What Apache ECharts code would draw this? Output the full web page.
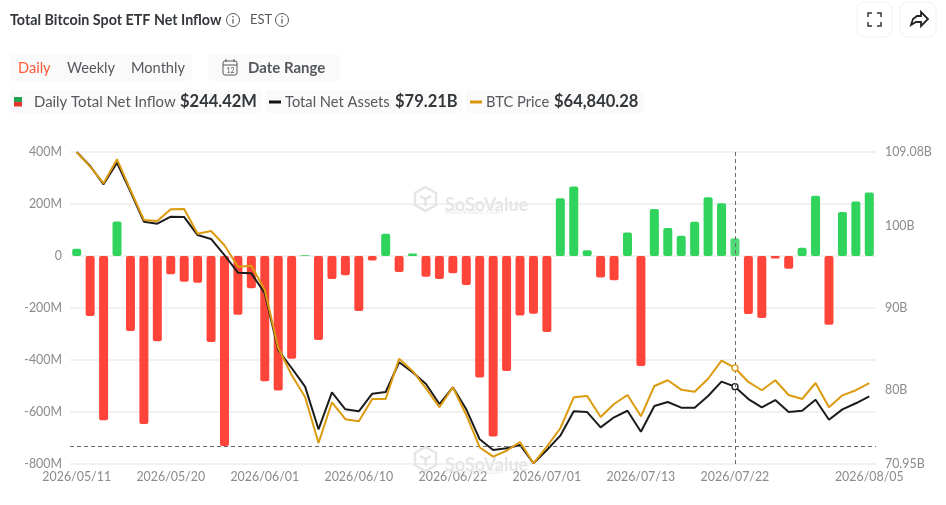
<!DOCTYPE html>
<html><head><meta charset="utf-8">
<style>html,body{margin:0;padding:0;background:#fff}#c{width:946px;height:505px}</style>
<script src="https://cdn.jsdelivr.net/npm/echarts@6/dist/echarts.min.js"></script>
</head><body><div id="c"></div>
<script>
const dates = ['2026/05/11','2026/05/12','2026/05/13','2026/05/14','2026/05/15','2026/05/18','2026/05/19','2026/05/20','2026/05/21','2026/05/22','2026/05/26','2026/05/27','2026/05/28','2026/05/29','2026/06/01','2026/06/02','2026/06/03','2026/06/04','2026/06/05','2026/06/08','2026/06/09','2026/06/10','2026/06/11','2026/06/12','2026/06/15','2026/06/16','2026/06/17','2026/06/18','2026/06/22','2026/06/23','2026/06/24','2026/06/25','2026/06/26','2026/06/29','2026/06/30','2026/07/01','2026/07/02','2026/07/06','2026/07/07','2026/07/08','2026/07/09','2026/07/10','2026/07/13','2026/07/14','2026/07/15','2026/07/16','2026/07/17','2026/07/20','2026/07/21','2026/07/22','2026/07/23','2026/07/24','2026/07/27','2026/07/28','2026/07/29','2026/07/30','2026/07/31','2026/08/03','2026/08/04','2026/08/05'];
const xTickLabels = ['2026/05/11','2026/05/20','2026/06/01','2026/06/10','2026/06/22','2026/07/01','2026/07/13','2026/07/22','2026/08/05'];
const netInflow = [28,-231,-632,133,-288,-646,-328,-70,-99,-103,-331,-731,-226,-124,-482,-517,-395,3,-323,-88,-74,-212,-17,86,-62,10,-80,-88,-66,-112,-467,-694,-442,-229,-222,-292,222,267,22,-83,-93,90,-423,181,108,78,132,226,203,68,-223,-238,-10,-49,32,232,-264,169,210,244.42];
const netAssets = [109.08,107.37,105.13,107.77,104.23,100.56,100.32,101.17,101.13,98.93,98.45,96.49,94.33,94.25,91.81,84.88,82.68,80.40,75.19,79.71,77.63,77.39,79.54,79.75,83.38,82.16,80.73,78.28,80.32,77.63,73.97,72.66,72.87,73.27,71.04,72.66,74.41,77.39,77.30,75.43,76.66,77.46,74.90,78.04,78.53,77.83,77.83,79.26,81.01,80.40,78.89,77.88,78.77,77.30,77.46,78.81,76.36,77.63,78.37,79.21];
const btcPrice = [84350,83110,81710,83735,81140,78610,78520,79510,79540,77450,77680,76470,74660,74750,72700,67800,65520,63660,59770,63210,61780,61610,63490,63490,66890,65860,64390,62790,64480,62140,59410,58620,59120,59860,58060,59460,61020,63630,63740,61970,63070,63830,62030,64590,65070,64280,64110,65200,66730,66110,64930,64230,65070,63830,63490,64840,62790,63800,64230,64840.28];
const leftTicks = [400,200,0,-200,-400,-600,-800];
const rightTicks = [70.95,80,90,100,109.08];
const hoverDate = '2026/07/22';
const hoverInflow = -731;

const FONT = 'Lato';
const GRAY = '#8a8a8f';
const hoverIdx = dates.indexOf(hoverDate);
const t = (x,y,text,o={}) => ({type:'text',x,y,silent:true,style:Object.assign({text,fontFamily:FONT,fontSize:14.6,fill:'#55585c',textVerticalAlign:'middle',textBaseline:'middle'},o)});
const r = (x,y,width,height,fill,rad=4,stroke) => ({type:'rect',silent:true,shape:{x,y,width,height,r:rad},style:{fill,stroke:stroke||null,lineWidth:stroke?1:0}});
const info = (cx,cy) => [
 {type:'circle',silent:true,shape:{cx,cy,r:6.5},style:{fill:'none',stroke:'#55585c',lineWidth:1}},
 {type:'line',silent:true,shape:{x1:cx,y1:cy-1,x2:cx,y2:cy+3.5},style:{stroke:'#55585c',lineWidth:1.2}},
 {type:'circle',silent:true,shape:{cx,cy:cy-3.2,r:0.8},style:{fill:'#55585c'}}
];
const line = (x1,y1,x2,y2,stroke,lineWidth=1.5) => ({type:'line',silent:true,shape:{x1,y1,x2,y2},style:{stroke,lineWidth}});
const wm = (x,y) => [
 {type:'polygon',silent:true,shape:{points:[[x+11.5,y-12],[x+22,y-6],[x+22,y+6],[x+11.5,y+12],[x+1,y+6],[x+1,y-6]]},style:{fill:'none',stroke:'#e6e6e6',lineWidth:2.5},z:3},
 {type:'polyline',silent:true,shape:{points:[[x+6,y-3],[x+11.5,y],[x+17,y-3]]},style:{fill:'none',stroke:'#e6e6e6',lineWidth:2.5},z:3},
 {type:'line',silent:true,shape:{x1:x+11.5,y1:y,x2:x+11.5,y2:y+7},style:{stroke:'#e6e6e6',lineWidth:2.5},z:3},
 {type:'text',silent:true,x:x+31,y:y-3,z:3,style:{text:'SoSoValue',fontFamily:FONT,fontWeight:'bold',fontSize:18,fill:'#e6e6e6',textBaseline:'middle'}},
 {type:'text',silent:true,x:x+31,y:y+8,z:3,style:{text:'sosovalue.com',fontFamily:FONT,fontSize:9,fill:'#e8e8e8',textBaseline:'middle'}}
];

const graphics = [
 t(10,20,'Total Bitcoin Spot ETF Net Inflow',{fontSize:14.3,fontWeight:'bold',fill:'#33363a'}),
 ...info(233,20),
 t(250,20,'EST',{fontSize:13}),
 ...info(282,20),
 r(857,2,35,35,'#fff',8,'#f0f0f0'), r(900,2,36,35,'#fff',8,'#f0f0f0'),
 {type:'polyline',silent:true,shape:{points:[[868,17],[868,13],[872,13]]},style:{fill:'none',stroke:'#33363a',lineWidth:1.5}},
 {type:'polyline',silent:true,shape:{points:[[877,13],[881,13],[881,17]]},style:{fill:'none',stroke:'#33363a',lineWidth:1.5}},
 {type:'polyline',silent:true,shape:{points:[[868,22],[868,26],[872,26]]},style:{fill:'none',stroke:'#33363a',lineWidth:1.5}},
 {type:'polyline',silent:true,shape:{points:[[877,26],[881,26],[881,22]]},style:{fill:'none',stroke:'#33363a',lineWidth:1.5}},
 {type:'polygon',silent:true,shape:{points:[[921,12],[928,19],[921,26],[921,22],[916,22],[911,25],[913,19],[917,16],[921,16]]},style:{fill:'none',stroke:'#222',lineWidth:1.8}},
 r(10,54,182,27,'#fafafa'),
 t(18,68,'Daily',{fill:'#ff5a36'}), t(67,68,'Weekly'), t(131,68,'Monthly'),
 r(208,54,132,27,'#fafafa'),
 r(223,61,14,14,'none',2,'#55585c'),
 line(223,65,237,65,'#55585c',1), line(226,59,226,62,'#55585c',1), line(234,59,234,62,'#55585c',1),
 t(226.5,70.5,'12',{fontSize:7,fill:'#55585c'}),
 t(248,68,'Date Range',{fontWeight:'bold',fontSize:15,fill:'#55585c'}),
 r(10,90,252,23,'#fafafa'), r(265,90,197,23,'#fafafa'), r(466,90,178,23,'#fafafa'),
 r(14,97,8,5,'#22a04f',0), r(14,102,8,4.5,'#e8352c',0),
 t(34,102,'Daily Total Net Inflow',{fontSize:14.9}), t(180,102,'$244.42M',{fontWeight:'bold',fontSize:16.5,fill:'#33363a'}),
 line(269,102,281,102,'#111',3),
 t(285,102,'Total Net Assets',{fontSize:14.7}), t(395,102,'$79.21B',{fontWeight:'bold',fontSize:16.5,fill:'#33363a'}),
 line(470,102,482,102,'#d9960f',3),
 t(486,102,'BTC Price',{fontSize:14.7}), t(554,102,'$64,840.28',{fontWeight:'bold',fontSize:16.5,fill:'#33363a'}),
 ...wm(414,199), ...wm(414,459)
];

const chart = echarts.init(document.getElementById('c'),null,{renderer:'canvas'});
chart.setOption({
 animation:false,
 textStyle:{fontFamily:FONT},
 grid:{left:70,right:70,top:152,bottom:41,containLabel:false},
 graphic:{elements:graphics},
 xAxis:{type:'category',data:dates,axisLine:{show:false},axisTick:{show:false},splitLine:{show:false},
  axisLabel:{color:GRAY,fontSize:12.4,fontFamily:FONT,margin:7,hideOverlap:false,
   interval:(i,v)=>xTickLabels.includes(v)}},
 yAxis:[
  {type:'value',min:-800,max:400,interval:200,axisLine:{show:false},axisTick:{show:false},
   splitLine:{lineStyle:{color:'#ececec',width:1.5}},
   axisLabel:{color:GRAY,fontSize:12.4,fontFamily:FONT,margin:8,
    customValues:leftTicks,formatter:v=>v===0?'0':v+'M'}},
  {type:'value',position:'right',min:70.95,max:109.08,axisLine:{show:false},axisTick:{show:false},splitLine:{show:false},
   axisLabel:{color:GRAY,fontSize:12.4,fontFamily:FONT,margin:9,customValues:rightTicks,formatter:v=>v+'B'}},
  {type:'value',show:false,min:58000,max:84350,splitLine:{show:false}}
 ],
 series:[
  {name:'Daily Total Net Inflow',type:'bar',yAxisIndex:0,barWidth:9,silent:true,
   data:netInflow.map((v,i)=>({value:v,itemStyle:{
     color:i===hoverIdx?(v>=0?'#4fdc78':'#ff6a60'):(v>=0?'#30d35c':'#ff453a'),
     borderRadius:2}})),
   markLine:{silent:true,symbol:'none',animation:false,label:{show:false},
    lineStyle:{color:'#6b6b6b',type:[4,3],width:1},
    data:[{yAxis:hoverInflow},{xAxis:hoverDate}]},z:2},
  {name:'Total Net Assets',type:'line',yAxisIndex:1,data:netAssets,silent:true,z:4,
   showSymbol:true,showAllSymbol:true,symbol:(v,p)=>p.dataIndex===hoverIdx?'circle':'none',symbolSize:6,
   lineStyle:{color:'#1c1c1c',width:2},itemStyle:{color:'#fff',borderColor:'#1c1c1c',borderWidth:1.3}},
  {name:'BTC Price',type:'line',yAxisIndex:2,data:btcPrice,silent:true,z:5,
   showSymbol:true,showAllSymbol:true,symbol:(v,p)=>p.dataIndex===hoverIdx?'circle':'none',symbolSize:6,
   lineStyle:{color:'#dc9a0e',width:2},itemStyle:{color:'#fff',borderColor:'#dc9a0e',borderWidth:1.3}}
 ]
});
</script></body></html>
